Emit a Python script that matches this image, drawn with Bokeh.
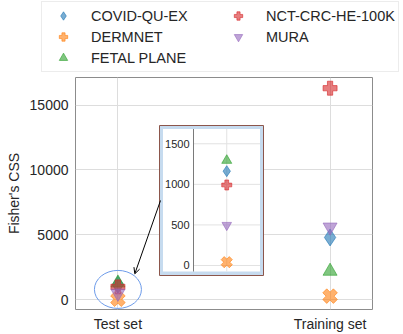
import numpy as np
from bokeh.plotting import figure
from bokeh.layouts import column
from bokeh.models import Range1d, FixedTicker, Legend, LegendItem, Arrow, OpenHead
from bokeh.core.properties import value
from bokeh.embed import file_html
from bokeh.resources import INLINE

# ---------------- data ----------------
datasets = ["COVID-QU-EX", "DERMNET", "FETAL PLANE", "NCT-CRC-HE-100K", "MURA"]
splits = ["Test set", "Training set"]
test_css = [1162, 41, 1294, 992, 497]
train_css = [4800, 280, 2200, 16300, 5600]
y_ticks = [0, 5000, 10000, 15000]
inset_ticks = [0, 500, 1000, 1500]

# ---------------- style ----------------
colors = ["#1f77b4", "#ff7f0e", "#2ca02c", "#d62728", "#9467bd"]
markers = ["diamond", "plus", "triangle", "plus", "inverted_triangle"]
angles = [0, np.pi / 4, 0, 0, 0]
sizes = [17, 15, 14, 14, 14]
inset_sizes = [11, 11.5, 10, 10, 9.5]
FONT = "Liberation Sans"
TXT = "#262626"

W, H = 403, 334
LEG_H = 76                      # height of the legend strip on top
FL, FR, FT, FB = 75, 372, 77, 309   # plot frame in page pixels
XR = (-0.2, 1.2)
YR = (-750, 17125)
xpos = list(range(len(splits)))

# ---------------- legend strip ----------------
# same series drawn in a strip whose view range excludes them: only the legend shows
pl = figure(width=W, height=LEG_H, output_backend="svg", toolbar_location=None,
            x_range=Range1d(-1, 0), y_range=Range1d(-1, 0),
            x_axis_location=None, y_axis_location=None,
            min_border_left=0, min_border_right=0, min_border_top=0, min_border_bottom=0)
pl.frame_align = False
pl.grid.visible = False
pl.outline_line_color = None
leg_renderers = []
for i, name in enumerate(datasets):
    leg_renderers.append(pl.scatter(x=xpos, y=[test_css[i], train_css[i]], marker=markers[i],
                                    angle=angles[i], size=sizes[i],
                                    fill_color=colors[i], fill_alpha=0.6,
                                    line_color=colors[i], line_alpha=0.6, line_width=1))
legend = Legend(items=[LegendItem(label=n, renderers=[r]) for n, r in zip(datasets, leg_renderers)],
                location=(41, LEG_H - 72), orientation="vertical", nrows=3,
                glyph_width=36, glyph_height=21, label_height=21, label_width=129,
                label_standoff=10, padding=3, spacing=0, margin=0,
                border_line_color="#d9d9d9", border_line_width=1,
                background_fill_color="white", background_fill_alpha=1.0,
                label_text_font=FONT, label_text_font_size="14.5px", label_text_color=TXT)
pl.add_layout(legend)

# ---------------- main plot ----------------
p = figure(width=W, height=H - LEG_H, output_backend="svg", toolbar_location=None,
           x_range=Range1d(*XR), y_range=Range1d(*YR),
           min_border_left=FL, min_border_right=W - FR,
           min_border_top=FT - LEG_H, min_border_bottom=H - FB)
p.frame_align = False


def px_x(px):
    return XR[0] + (px - FL) / (FR - FL) * (XR[1] - XR[0])


def px_y(py):
    return YR[0] + (FB - py) / (FB - FT) * (YR[1] - YR[0])


# inset axes geometry (page pixels) and limits
IL, IR, IT, IB = 193, 259.5, 128.5, 271
IX = (-0.5, 0.5)
IY = (-74, 1682)
sxi = (IR - IL) / (IX[1] - IX[0])
syi = (IB - IT) / (IY[1] - IY[0])
p.extra_x_ranges = {"ix": Range1d(IX[0] - (IL - FL) / sxi, IX[1] + (FR - IR) / sxi)}
p.extra_y_ranges = {"iy": Range1d(IY[0] - (FB - IB) / syi, IY[1] + (IT - FT) / syi)}

for i, name in enumerate(datasets):
    p.scatter(x=xpos, y=[test_css[i], train_css[i]], marker=markers[i],
              size=sizes[i], angle=angles[i], fill_color=colors[i], fill_alpha=0.6,
              line_color=colors[i], line_alpha=0.6, line_width=1)

# ellipse around the test-set cluster
p.ellipse(x=[xpos[0]], y=[float(np.mean(test_css))], width=47, height=38,
          width_units="screen", height_units="screen",
          fill_color=None, line_color="#6d9be9", line_width=1)

# ---------------- inset ----------------
p.quad(left=[px_x(159)], right=[px_x(263)], top=[px_y(125)], bottom=[px_y(275)],
       fill_color="#c6dbef", line_color="#8c564b", line_width=1)
p.quad(left=[px_x(162.5)], right=[px_x(259.5)], top=[px_y(128.5)], bottom=[px_y(271)],
       fill_color="white", line_color=None)

p.segment(x0=[IX[0]] * len(inset_ticks), x1=[IX[1]] * len(inset_ticks),
          y0=inset_ticks, y1=inset_ticks, x_range_name="ix", y_range_name="iy",
          line_color="#e2e2e2", line_width=1)
p.segment(x0=[xpos[0]], x1=[xpos[0]], y0=[IY[0]], y1=[IY[1]],
          x_range_name="ix", y_range_name="iy", line_color="#e2e2e2", line_width=1)
p.segment(x0=[IX[0]], x1=[IX[0]], y0=[IY[0]], y1=[IY[1]],
          x_range_name="ix", y_range_name="iy", line_color="#7a7a7a", line_width=1)
p.text(x=[IX[0]] * len(inset_ticks), y=inset_ticks, text=[str(t) for t in inset_ticks],
       x_offset=-4, text_align="right", text_baseline="middle",
       text_font=value(FONT), text_font_size="11px", text_color=TXT,
       x_range_name="ix", y_range_name="iy")

for i, name in enumerate(datasets):
    p.scatter(x=[xpos[0]], y=[test_css[i]], marker=markers[i], size=inset_sizes[i],
              angle=angles[i], fill_color=colors[i], fill_alpha=0.6,
              line_color=colors[i], line_alpha=0.6, line_width=1,
              x_range_name="ix", y_range_name="iy")

p.add_layout(Arrow(x_start=px_x(160), y_start=px_y(200), x_end=px_x(134.3), y_end=px_y(273.3),
                   line_color="black", line_width=1,
                   end=OpenHead(size=6, line_color="black", line_width=1)))

# ---------------- axes ----------------
p.xaxis.ticker = FixedTicker(ticks=xpos)
p.xaxis.major_label_overrides = {x: s for x, s in zip(xpos, splits)}
p.yaxis.ticker = FixedTicker(ticks=y_ticks)
p.yaxis.axis_label = "Fisher's CSS"
for ax in (p.xaxis, p.yaxis):
    ax.axis_line_color = None
    ax.major_tick_line_color = None
    ax.minor_tick_line_color = None
    ax.major_tick_out = 0
    ax.major_tick_in = 0
    ax.major_label_text_font = FONT
    ax.major_label_text_font_size = "14px"
    ax.major_label_text_color = TXT
    ax.axis_label_text_font = FONT
    ax.axis_label_text_font_size = "14px"
    ax.axis_label_text_font_style = "normal"
    ax.axis_label_text_color = TXT
p.xaxis.major_label_standoff = 6
p.yaxis.major_label_standoff = 7
p.yaxis.axis_label_standoff = 5
p.grid.grid_line_color = "#dddddd"
p.outline_line_color = "#8c8c8c"
p.outline_line_width = 1

layout = column(pl, p, spacing=0)
open("out.html", "w").write(file_html(layout, INLINE))
